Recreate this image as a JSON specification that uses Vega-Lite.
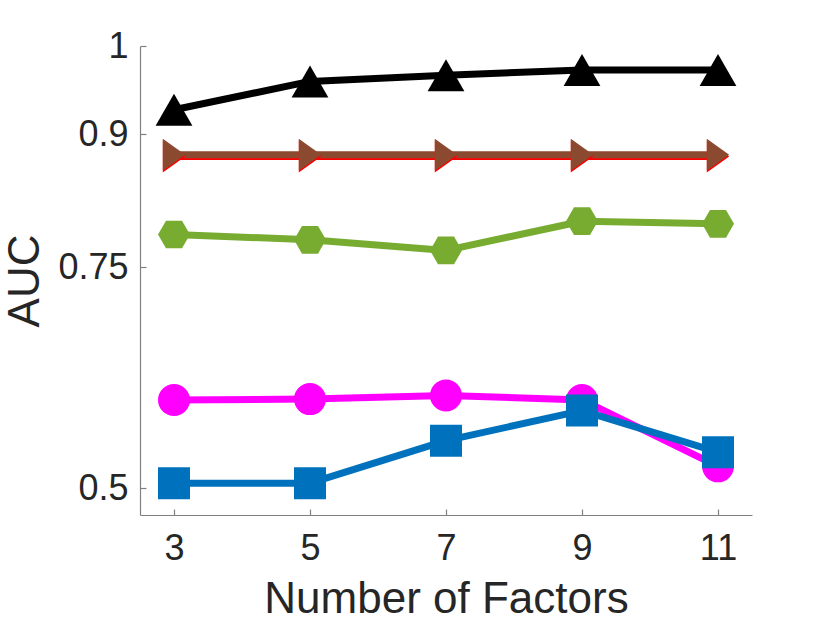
{
  "$schema": "https://vega.github.io/schema/vega-lite/v6.json",
  "width": 612,
  "height": 469,
  "autosize": {"type": "none"},
  "padding": {"left": 140, "top": 46, "right": 78, "bottom": 108},
  "background": "white",
  "config": {
    "view": {"stroke": null},
    "font": "Liberation Sans",
    "axis": {
      "grid": false,
      "domainColor": "#808080",
      "domainWidth": 1.2,
      "tickColor": "#808080",
      "tickWidth": 1.2,
      "tickSize": -6,
      "labelFont": "Liberation Sans",
      "labelFontSize": 36,
      "labelColor": "#262626",
      "titleFont": "Liberation Sans",
      "titleFontSize": 44,
      "titleFontWeight": "normal",
      "titleColor": "#262626"
    }
  },
  "data": {
    "values": [
      {"series": "S1", "factors": 3, "auc": 0.875},
      {"series": "S1", "factors": 5, "auc": 0.875},
      {"series": "S1", "factors": 7, "auc": 0.875},
      {"series": "S1", "factors": 9, "auc": 0.875},
      {"series": "S1", "factors": 11, "auc": 0.875},
      {"series": "S2", "factors": 3, "auc": 0.877},
      {"series": "S2", "factors": 5, "auc": 0.877},
      {"series": "S2", "factors": 7, "auc": 0.877},
      {"series": "S2", "factors": 9, "auc": 0.877},
      {"series": "S2", "factors": 11, "auc": 0.877},
      {"series": "S3", "factors": 3, "auc": 0.787},
      {"series": "S3", "factors": 5, "auc": 0.781},
      {"series": "S3", "factors": 7, "auc": 0.769},
      {"series": "S3", "factors": 9, "auc": 0.802},
      {"series": "S3", "factors": 11, "auc": 0.799},
      {"series": "S4", "factors": 3, "auc": 0.6},
      {"series": "S4", "factors": 5, "auc": 0.601},
      {"series": "S4", "factors": 7, "auc": 0.605},
      {"series": "S4", "factors": 9, "auc": 0.6},
      {"series": "S4", "factors": 11, "auc": 0.525},
      {"series": "S5", "factors": 3, "auc": 0.506},
      {"series": "S5", "factors": 5, "auc": 0.506},
      {"series": "S5", "factors": 7, "auc": 0.554},
      {"series": "S5", "factors": 9, "auc": 0.588},
      {"series": "S5", "factors": 11, "auc": 0.541},
      {"series": "S6", "factors": 3, "auc": 0.928},
      {"series": "S6", "factors": 5, "auc": 0.96},
      {"series": "S6", "factors": 7, "auc": 0.967},
      {"series": "S6", "factors": 9, "auc": 0.973},
      {"series": "S6", "factors": 11, "auc": 0.973}
    ]
  },
  "encoding": {
    "x": {
      "field": "factors",
      "type": "quantitative",
      "scale": {"domain": [2.5, 11.5], "nice": false, "zero": false},
      "axis": {"values": [3, 5, 7, 9, 11], "title": "Number of Factors", "labelPadding": 22, "titlePadding": 11}
    },
    "y": {
      "field": "auc",
      "type": "quantitative",
      "scale": {"domain": [0.47, 1], "nice": false, "zero": false},
      "axis": {"values": [0.5, 0.75, 0.9, 1], "format": ".2~f", "title": "AUC", "labelPadding": 18, "titlePadding": 10}
    },
    "color": {
      "field": "series",
      "type": "nominal",
      "scale": {
        "domain": ["S1", "S2", "S3", "S4", "S5", "S6"],
        "range": ["#FF0000", "#8B4A30", "#77AC30", "#FF00FF", "#0072BD", "#000000"]
      },
      "legend": null
    }
  },
  "layer": [
    {
      "mark": {"type": "line", "strokeJoin": "round", "strokeCap": "butt"},
      "encoding": {
        "strokeWidth": {
          "field": "series",
          "type": "nominal",
          "scale": {"domain": ["S1", "S2", "S3", "S4", "S5", "S6"], "range": [7, 7, 7, 7, 7, 8]},
          "legend": null
        }
      }
    },
    {
      "mark": {"type": "point", "filled": true, "opacity": 1},
      "encoding": {
        "shape": {
          "field": "series",
          "type": "nominal",
          "scale": {
            "domain": ["S1", "S2", "S3", "S4", "S5", "S6"],
            "range": [
              "M-0.7,-1L0.7,0L-0.7,1Z",
              "M-0.7,-1L0.7,0L-0.7,1Z",
              "M-1,0L-0.5,-0.866L0.5,-0.866L1,0L0.5,0.866L-0.5,0.866Z",
              "circle",
              "square",
              "M-1.15,1L0,-1L1.15,1Z"
            ]
          },
          "legend": null
        },
        "size": {
          "field": "series",
          "type": "nominal",
          "scale": {"domain": ["S1", "S2", "S3", "S4", "S5", "S6"], "range": [1024, 1024, 500, 480, 600, 1089]},
          "legend": null
        }
      }
    }
  ]
}
